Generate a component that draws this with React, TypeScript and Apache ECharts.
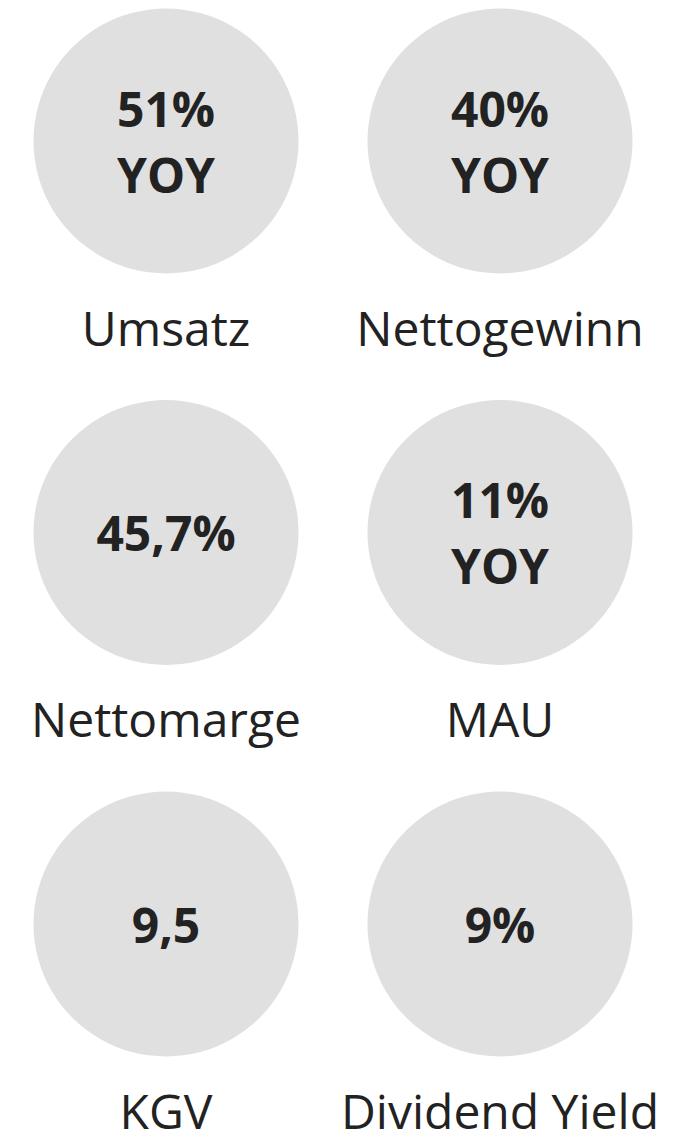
import React, { useEffect, useRef } from "react";
import * as echarts from "echarts";

const labels = ["Umsatz", "Nettogewinn", "Nettomarge", "MAU", "KGV", "Dividend Yield"];
const metricValues = ["51%", "40%", "45,7%", "11%", "9,5", "9%"];
const suffixes = ["YOY", "YOY", "", "YOY", "", ""];
const cols = [0, 1, 0, 1, 0, 1];
const rows = [0, 0, 1, 1, 2, 2];

export default function App() {
  const ref = useRef<HTMLDivElement>(null);
  useEffect(() => {
    if (!ref.current) return;
    const chart = echarts.init(ref.current, null, { renderer: "svg" });
    const data = labels.map((name, i) => ({
      name,
      value: [cols[i], rows[i]],
      text: suffixes[i] ? metricValues[i] + "\n" + suffixes[i] : metricValues[i],
    }));
    chart.setOption({
      animation: false,
      backgroundColor: "#ffffff",
      grid: { left: 166, top: 141, width: 334, height: 783 },
      xAxis: { type: "value", min: 0, max: 1, show: false },
      yAxis: { type: "value", min: 0, max: 2, inverse: true, show: false },
      series: [
        {
          type: "scatter",
          symbol: "circle",
          symbolSize: 265,
          itemStyle: { color: "#e0e0e0", opacity: 1 },
          silent: true,
          data,
          label: {
            show: true,
            position: "inside",
            formatter: (p: any) => p.data.text,
            fontFamily: "Open Sans",
            fontWeight: "bold",
            fontSize: 48,
            lineHeight: 66,
            color: "#222222",
          },
        },
        {
          type: "scatter",
          symbol: "circle",
          symbolSize: 1,
          itemStyle: { color: "transparent", opacity: 1 },
          silent: true,
          data,
          label: {
            show: true,
            position: "inside",
            offset: [0, 186],
            formatter: (p: any) => p.name,
            fontFamily: "Open Sans",
            fontSize: 48,
            lineHeight: 48,
            color: "#222222",
          },
        },
      ],
    });
    return () => chart.dispose();
  }, []);
  return (
    <div
      ref={ref}
      style={{ position: "fixed", left: 0, top: 0, width: 684, height: 1137 }}
    />
  );
}
